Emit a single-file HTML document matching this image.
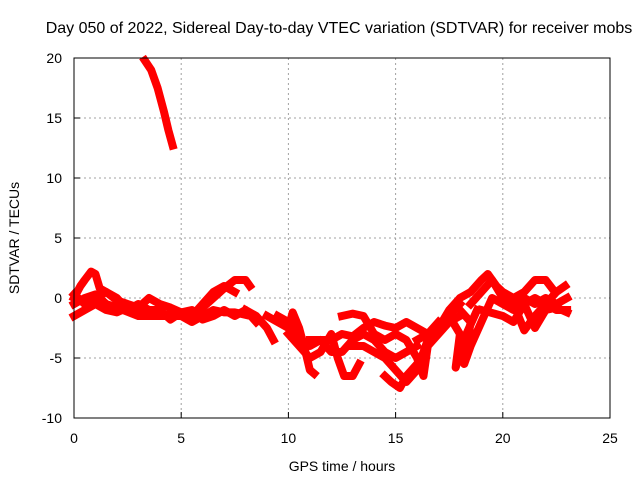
<!DOCTYPE html>
<html><head><meta charset="utf-8"><style>
body{margin:0;background:#fff}
svg{display:block;font-family:"Liberation Sans",sans-serif}
</style></head><body>
<svg id="chart" width="640" height="480" viewBox="0 0 640 480">
<rect width="640" height="480" fill="#fff"/>
<text x="339" y="33" font-size="16" text-anchor="middle">Day 050 of 2022, Sidereal Day-to-day VTEC variation (SDTVAR) for receiver mobs</text>
<g id="grid"></g>
<g id="axes"></g>
<g id="series"></g>
<rect x="74" y="58" width="536" height="360" fill="none" stroke="#000" stroke-width="1"/>
<text x="342" y="471" font-size="14" text-anchor="middle">GPS time / hours</text>
<text x="0" y="0" font-size="14" text-anchor="middle" transform="translate(19,238) rotate(-90)">SDTVAR / TECUs</text>
</svg>
<script>
const xTicks=[0,5,10,15,20,25];
const yTicks=[-10,-5,0,5,10,15,20];
const trackA=[[3.3,19.8],[3.6,19],[3.9,17.5],[4.2,15.5],[4.4,14],[4.6,12.7]];
const trackB=[[0,-1.5],[0.5,-1],[1,-0.5],[1.5,-1],[2,-1.2],[2.5,-0.8],[3,-1.2],[3.5,-1.5],[4,-1.5],[4.5,-1.3],[5,-1.5],[5.5,-2],[6,-1.5],[6.5,-1],[7,-1.2],[7.5,-1.2],[8,-1.4]];
const trackC=[[0,0],[0.3,1],[0.5,1.5],[0.8,2.2],[1,2],[1.2,0.8],[1.5,0.5],[2,-0.2],[2.5,-0.5],[3,-0.8],[3.5,0],[4,-0.5],[4.5,-0.8],[5,-1.2]];
const trackD=[[5.5,-1.5],[6,-0.8],[6.5,0],[7,0.8],[7.5,1.5],[8,1.5],[8.2,1]];
const trackE=[[0,-0.5],[0.5,0],[1,0.3],[1.5,-0.5],[2,-0.8],[3,-1.5],[4.5,-1.5],[5.5,-1.5],[6,-0.5],[6.5,0.5],[7,1],[7.5,0.5]];
const trackE2=[[0,0.3],[0.5,-0.5],[1,0],[1.5,0.5],[2,0],[2.5,-1],[3,-0.5],[3.5,-1],[4,-1],[4.5,-1.8],[5,-1.2],[5.5,-1],[6,-1.8],[6.5,-1.5],[7,-1],[7.5,-1.5],[8,-1],[8.5,-2]];
const trackF=[[8,-1],[8.5,-1.5],[9,-2.5],[9.3,-3.5]];
const trackG=[[9,-1.5],[9.5,-2],[10,-2.5],[10.2,-1.2],[10.5,-2.5],[10.8,-4.5],[11,-6],[11.2,-6.3]];
const trackH=[[9.5,-1.5],[10,-2],[10.5,-3.5],[11,-4],[11.5,-3.5],[12,-4.5],[12.5,-4.5],[13,-3.5],[13.5,-3],[14,-3.5],[14.5,-4.5],[15,-5],[15.5,-4.5],[16,-4]];
const trackI=[[11,-3.5],[12,-3.5],[12.5,-3],[13,-3.2],[13.5,-2.5],[14,-2],[14.5,-2.3],[15,-2.5],[15.5,-2],[16,-2.5],[16.5,-3],[17,-2]];
const trackJ=[[10,-3],[10.5,-4],[11,-5],[11.5,-4.5],[12,-3],[12.3,-5],[12.6,-6.5],[13,-6.5],[13.3,-5.5]];
const trackK=[[12.5,-1.5],[13,-1.3],[13.5,-1.5],[14,-3],[14.5,-3.5],[15,-3],[15.5,-3.5],[16,-5],[16.3,-6.5],[16.5,-4]];
const trackL=[[14.5,-6.5],[14.8,-7],[15.2,-7.5],[15.5,-6.5],[16,-5.5],[16.5,-4],[17,-3],[17.5,-2],[18,-1.5]];
const trackL2=[[13,-4],[13.5,-4],[14,-4.5],[14.5,-5],[15,-6],[15.5,-7],[16,-6],[16.5,-3.5],[17,-2.5],[17.5,-1.5],[18,-0.5]];
const trackM=[[16,-3.5],[17,-2.5],[17.5,-1],[18,0],[18.5,0.5],[19,1.5],[19.3,2],[19.7,1],[20,0.5],[20.5,0],[21,0.5],[21.5,1.5],[22,1.5],[22.3,0.8]];
const trackN=[[18,-1],[18.5,-2],[18.2,-5.5],[18.5,-4],[19,-2],[19.5,0],[20,-0.5],[20.5,-1],[21,-0.5],[21.5,0],[22,-0.5],[22.5,0.5],[22.9,1]];
const trackO=[[17.5,-1.5],[18,-3],[17.8,-5.8],[18.3,-3],[18.8,-1]];
const trackP=[[19,-1],[20,-1.5],[20.5,-2],[21,-0.5],[21.5,-2.5],[22,-1],[22.5,-0.8],[23,-1.2]];
const trackQ=[[20,0],[20.5,-0.5],[21,-2.7],[21.5,-1.5],[22,-0.5],[22.5,-1],[23,-1]];
const trackR=[[18.5,-0.5],[19,0.5],[19.5,1.5],[20,0],[20.5,-0.8],[21,0],[21.5,-0.5],[22,0],[22.5,-0.5],[23,0]];
const tracks=[trackA,trackB,trackC,trackD,trackE,trackE2,trackF,trackG,trackH,trackI,trackJ,trackK,trackL,trackL2,trackM,trackN,trackO,trackP,trackQ,trackR];
const NS="http://www.w3.org/2000/svg";
const X=t=>74+(t-0)*536/25;
const Y=v=>418-(v+10)*360/30;
const grid=document.getElementById('grid'),axes=document.getElementById('axes'),series=document.getElementById('series');
function mk(tag,attrs,parent){const e=document.createElementNS(NS,tag);for(const k in attrs)e.setAttribute(k,attrs[k]);parent.appendChild(e);return e;}
xTicks.forEach(t=>{
  if(t>0&&t<25){const g=mk('line',{x1:X(t),x2:X(t),y1:58,y2:418,stroke:'#a0a0a0','stroke-dasharray':'2,3'},grid);
  
  }
  const tk=mk('line',{x1:X(t),x2:X(t),y1:418,y2:412,stroke:'#000'},axes);
  
  
  const tx=mk('text',{x:X(t),y:443,'font-size':14,'text-anchor':'middle'},axes);
  tx.textContent=t;
  
  
});
yTicks.forEach(v=>{
  if(v>-10&&v<20){const g=mk('line',{x1:74,x2:610,y1:Y(v),y2:Y(v),stroke:'#a0a0a0','stroke-dasharray':'2,3'},grid);
  
  }
  const tk=mk('line',{x1:74,x2:80,y1:Y(v),y2:Y(v),stroke:'#000'},axes);
  
  
  const tx=mk('text',{x:62,y:Y(v)+5,'font-size':14,'text-anchor':'end'},axes);
  tx.textContent=v;
  
  
});
tracks.forEach(tr=>{
  const p=mk('polyline',{points:tr.map(d=>X(d[0])+','+Y(d[1])).join(' '),fill:'none',stroke:'#ff0000','stroke-width':8,'stroke-linejoin':'round','stroke-linecap':'square'},series);
  
  
});
</script>
</body></html>
